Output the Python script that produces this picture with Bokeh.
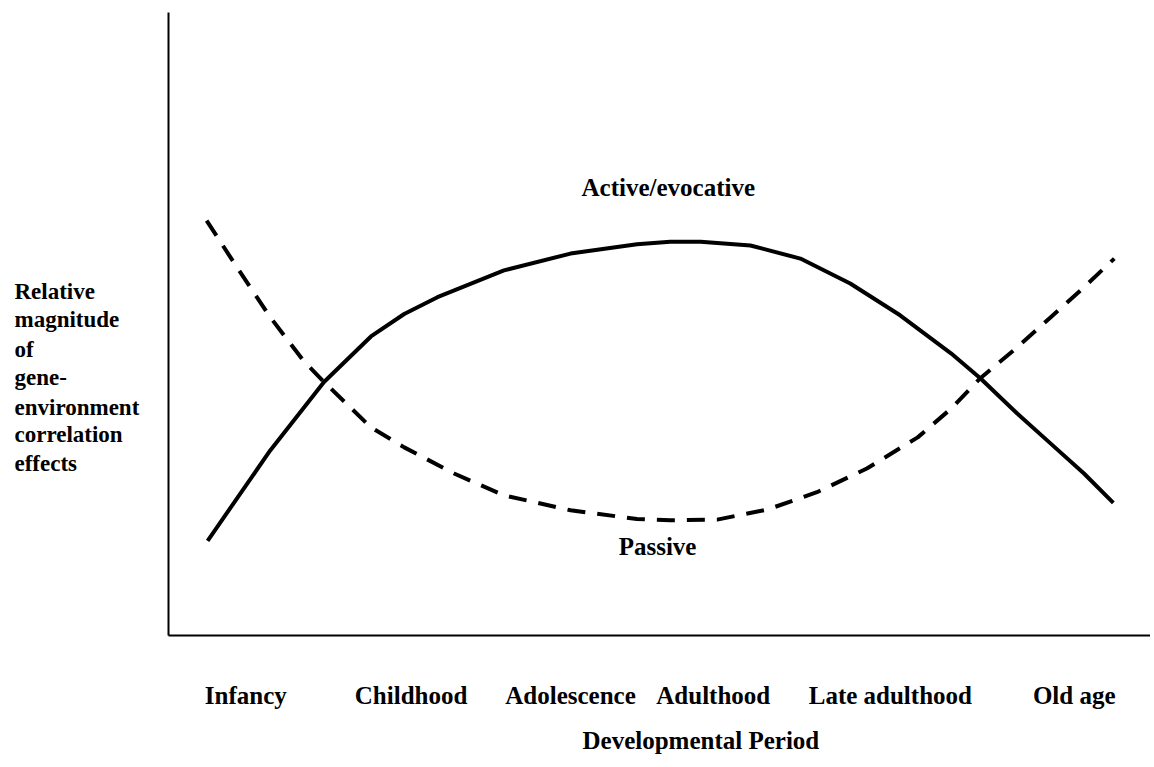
from bokeh.plotting import figure
from bokeh.models import Range1d, FixedTicker, Label, Title
from bokeh.layouts import row
from bokeh.core.properties import value
from bokeh.embed import file_html
from bokeh.resources import INLINE

# ---- data (relative units: x = developmental time 0-100, y = magnitude 0-100)
categories = ["Infancy", "Childhood", "Adolescence", "Adulthood", "Late adulthood", "Old age"]
category_x = [7.9, 24.8, 41.1, 55.7, 73.8, 92.6]

active_x = [4.0, 10.4, 15.9, 20.7, 24.1, 27.5, 34.3, 41.1, 47.9, 51.3, 54.4, 59.5,
            64.6, 69.7, 74.8, 80.0, 83.0, 86.8, 90.2, 93.6, 96.6]
active_y = [15.2, 29.7, 40.7, 48.0, 51.6, 54.3, 58.6, 61.3, 62.8, 63.2, 63.2, 62.6,
            60.5, 56.5, 51.4, 45.3, 41.3, 35.6, 30.8, 26.0, 21.3]

passive_x = [3.9, 7.0, 10.4, 13.8, 15.9, 20.7, 24.1, 29.2, 34.3, 41.1, 47.9, 51.3,
             56.1, 61.2, 66.3, 71.4, 76.6, 80.0, 83.0, 86.8, 90.2, 93.6, 96.7]
passive_y = [66.6, 59.1, 51.1, 44.1, 40.7, 33.4, 30.2, 26.0, 22.5, 20.1, 18.7, 18.5,
             18.6, 20.2, 23.0, 26.8, 31.8, 36.4, 41.3, 46.3, 51.1, 55.9, 60.5]

y_title_lines = ["Relative", "magnitude", "of", "gene-", "environment", "correlation", "effects"]
x_title = "Developmental Period"
active_label = "Active/evocative"
passive_label = "Passive"

FONT = "Liberation Serif"
H = 767
TOP, BOTTOM = 12, 635   # frame top / bottom on the canvas
LW = 166                # width of the side panel holding the y title
MW = 1150 - LW          # main plot width

# ---------- side panel with the (horizontal, multi-line) y-axis title
side = figure(width=LW, height=H, output_backend="svg", toolbar_location=None,
              x_range=Range1d(0, LW), y_range=Range1d(BOTTOM, TOP),
              x_axis_location=None, y_axis_location=None,
              min_border_left=0, min_border_right=0, min_border_top=TOP,
              min_border_bottom=H - BOTTOM)
side.outline_line_color = None
side.grid.visible = False
y_title_base = [291, 319, 349, 377, 407, 434, 463]
side.text(x=[14] * len(y_title_lines), y=y_title_base, text=y_title_lines,
          text_font=value(FONT), text_font_style="bold", text_font_size="23px",
          text_color="black", text_align="left", text_baseline="alphabetic")

# ---------- main plot
p = figure(width=MW, height=H, output_backend="svg", toolbar_location=None,
           x_range=Range1d(0, 100.4), y_range=Range1d(0, 100),
           min_border_left=2, min_border_right=0, min_border_top=TOP,
           min_border_bottom=H - BOTTOM)
p.outline_line_color = None
p.grid.visible = False
p.background_fill_color = "white"
p.border_fill_color = "white"

for ax in (p.xaxis[0], p.yaxis[0]):
    ax.axis_line_width = 2
    ax.axis_line_color = "black"
    ax.major_tick_line_color = None
    ax.minor_tick_line_color = None
    ax.major_tick_out = 0
    ax.major_tick_in = 0

p.yaxis[0].ticker = FixedTicker(ticks=[])
p.yaxis[0].major_label_standoff = 0
p.xaxis[0].ticker = FixedTicker(ticks=category_x)
p.xaxis[0].major_label_overrides = {x: c for x, c in zip(category_x, categories)}
p.xaxis[0].major_label_text_font = FONT
p.xaxis[0].major_label_text_font_style = "bold"
p.xaxis[0].major_label_text_font_size = "25px"
p.xaxis[0].major_label_text_color = "black"
p.xaxis[0].major_label_standoff = 46

p.add_layout(Title(text=x_title, align="left", offset=414, text_font=FONT,
                   text_font_style="bold", text_font_size="25px", text_color="black",
                   standoff=27), "below")

# curves
p.line(active_x, active_y, line_width=4, line_color="black", line_join="round")
p.line(passive_x, passive_y, line_width=4, line_color="black", line_dash="18 12")

for x, y, t in [(51.1, 71.9, active_label), (50.0, 14.3, passive_label)]:
    p.add_layout(Label(x=x, y=y, text=t, text_font=FONT, text_font_style="bold",
                       text_font_size="25px", text_color="black", text_align="center",
                       text_baseline="alphabetic"))

layout = row(side, p, spacing=0)
open("out.html", "w").write(file_html(layout, INLINE))
